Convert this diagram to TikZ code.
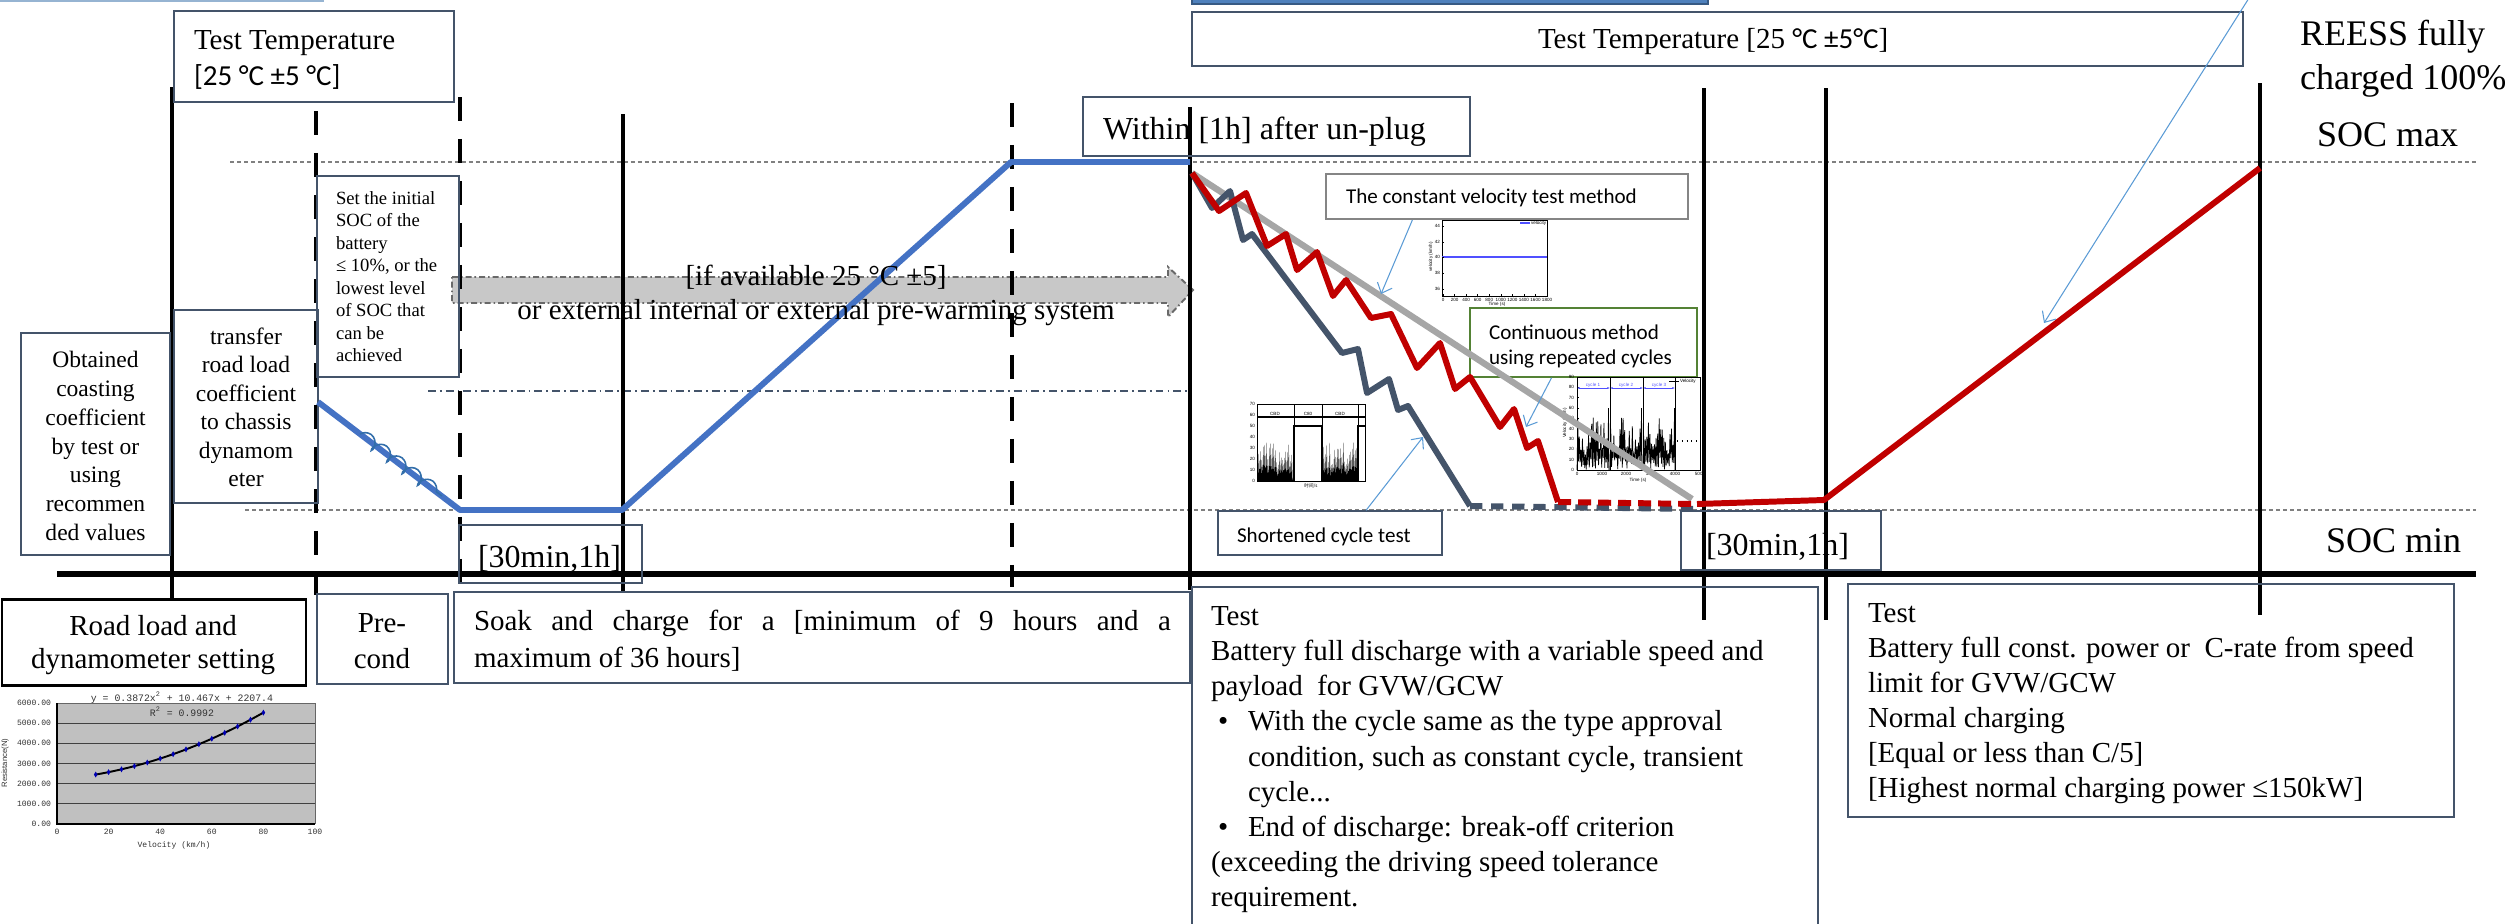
\documentclass[tikz,border=0pt]{standalone}
\usepackage{fontspec}
\setmainfont{Liberation Serif}
\newfontfamily\calf{Carlito}
\newfontfamily\monof{Liberation Mono}
\newfontfamily\sansf{Liberation Sans}
\newfontfamily\cjkf{Noto Sans CJK SC}
\usetikzlibrary{arrows.meta,decorations.pathmorphing,fit,calc}
\definecolor{slate}{RGB}{68,84,106}
\definecolor{socblue}{RGB}{68,114,196}
\definecolor{socred}{RGB}{192,0,0}
\definecolor{socgrey}{RGB}{166,166,166}
\definecolor{callblue}{RGB}{91,155,213}
\definecolor{boxgreen}{RGB}{84,130,53}
\definecolor{gridgrey}{RGB}{128,128,128}
\definecolor{arrowfill}{RGB}{200,200,200}
\definecolor{arrowedge}{RGB}{105,105,105}
\definecolor{chartgrey}{RGB}{192,192,192}
\definecolor{velblue}{RGB}{80,80,255}
\definecolor{topblue}{RGB}{79,129,189}
\definecolor{toplight}{RGB}{150,180,210}
\definecolor{coilblue}{RGB}{50,110,170}
\newcommand\fsMain{\fontsize{16.5}{19}\selectfont}
\newcommand\fsBig{\fontsize{18.2}{21}\selectfont}
\newcommand\fsHuge{\fontsize{20.5}{24}\selectfont}
\newcommand\fsObt{\fontsize{13.4}{16}\selectfont}
\newcommand\fsSet{\fontsize{10.6}{12.8}\selectfont}
\newcommand\fsCal{\fontsize{12}{14}\selectfont}
\tikzset{
  txt/.style={inner sep=0pt,outer sep=0pt},
  bx/.style={draw=slate,line width=0.85pt,inner sep=0pt},
  vsolid/.style={line width=2.8pt},
  vdashed/.style={line width=2.8pt,dash pattern=on 13.7pt off 10.2pt},
  socline/.style={draw=gridgrey,line width=0.8pt,dash pattern=on 2.3pt off 1.7pt},
  dashdotline/.style={draw=slate,line width=0.6pt,dash pattern=on 4.5pt off 2.3pt on 1pt off 2.3pt},
  curve/.style={line width=3.4pt,line join=round},
  callout/.style={draw=callblue,line width=0.6pt,-{Straight Barb[length=5pt,width=9pt]}},
  tk/.style={inner sep=0pt,outer sep=0pt,font={\sansf\fontsize{2.6}{3}\selectfont}},
  rk/.style={inner sep=0pt,outer sep=0pt,font={\monof\fontsize{4.6}{5.5}\selectfont},text=black!80},
}
\begin{document}
\begin{tikzpicture}[x=0.02cm,y=-0.02cm]
\useasboundingbox (0,0) rectangle (2514,923);

% top fragments
\draw[toplight,line width=1.5pt] (0,1) -- (324,1);
\fill[topblue] (1192,-6) rectangle (1708,4);
\draw[topblue!70!black,line width=0.6pt] (1192,-6) rectangle (1708,4);

% SOC reference lines
\draw[socline] (230,162) -- (2476,162);
\draw[socline] (245,510) -- (2476,510);
\draw[dashdotline] (428,391) -- (1190,391);

% pre-warming fat arrow
\draw[fill=arrowfill,draw=arrowedge,line width=1.1pt,dash pattern=on 3.4pt off 1.7pt on 0.9pt off 1.7pt]
  (452,277) -- (1168,277) -- (1168,267) -- (1193,290) -- (1168,317) -- (1168,303) -- (452,303) -- cycle;

% vertical time markers
\draw[vsolid] (172,87) -- (172,598);
\draw[vdashed] (316,111) -- (316,595);
\draw[vdashed] (460,97) -- (460,583);
\draw[vsolid] (623,114) -- (623,592);
\draw[vdashed] (1012,103) -- (1012,587);
\draw[vsolid] (1190,107) -- (1190,590);
\draw[vsolid] (1704,88) -- (1704,620);
\draw[vsolid] (1826,88) -- (1826,620);
\draw[vsolid] (2260,83) -- (2260,615);

% main axis
\draw[line width=3.4pt] (57,574) -- (2476,574);

% boxes
\node[bx,fit={(174,11) (454,102)}] (ttleft) {};
\node[bx,fit={(1192,12) (2243,66)}] (ttright) {};
\node[bx,fit={(21,333) (170,555)}] (obt) {};
\node[bx,fit={(174,310) (318,503)}] (trans) {};
\node[bx,fit={(317,176) (459,377)}] (setsoc) {};
\node[bx,fit={(1083,97) (1470,156)}] (within) {};
\node[bx,fit={(459,525) (642,583)}] (halfl) {};
\node[bx,fit={(1681,511) (1881,570)}] (halfr) {};
\node[draw=black,line width=1.7pt,inner sep=0pt,fit={(2,599) (306,685)}] (road) {};
\node[bx,fit={(317,594) (448,684)}] (precond) {};
\node[bx,fit={(454,592) (1190,683)}] (soak) {};
\node[bx,fit={(1192,587) (1818,940)}] (testmid) {};
\node[bx,fit={(1848,584) (2454,817)}] (testright) {};
\node[draw=socgrey!80!black,line width=1.1pt,inner sep=0pt,fit={(1326,174) (1688,219)}] (cvbox) {};
\node[draw=boxgreen,line width=0.9pt,inner sep=0pt,fit={(1470,308) (1697,377)}] (contbox) {};
\node[bx,fit={(1218,511) (1442,555)}] (shortbox) {};

% SOC curve (blue)
\draw[curve,socblue] (318,402) -- (460,510) -- (622,510) -- (1011,162) -- (1190,162);
\draw[coilblue,line width=0.9pt,decorate,decoration={coil,aspect=0.7,segment length=11pt,amplitude=3.6pt}] (360,434) -- (442,496);

% mini chart: cycle chart
\draw[line width=0.4pt] (1577,377) rectangle (1700,470);
\foreach \v in {0,10,...,90} {
  \node[tk,anchor=east] (cyl\v) at (1574,{470-1.033*\v}) {\v};
  \draw[line width=0.3pt] (1577,{470-1.033*\v}) -- (1579,{470-1.033*\v});
}
\foreach \v/\xx in {0/1577,1000/1602,2000/1626,3000/1651,4000/1675,5000/1700} {
  \node[tk,anchor=north] (cxl\v) at (\xx,472.5) {\v};
}
\node[tk,anchor=north] (cxt) at (1638,478) {Time (s)};
\node[tk,anchor=south,rotate=90] (cyt) at (1567,423) {Velocity (km/h)};
\pgfmathsetseed{42}
\foreach \s in {1577,1610,1643} {
  \draw[line width=0.4pt] (\s,470) \foreach \i in {1,...,40} { -- ({\s+\i*0.77},{470-1.033*ifthenelse(mod(\i,2)==0,12*rnd,14+38*rnd)}) } -- ({\s+31.5},{470-62}) -- ({\s+32},470);
}
\foreach \xx in {1610,1643,1675} { \draw[line width=0.5pt] (\xx,377) -- (\xx,470); }
\draw[velblue,line width=0.5pt,{Latex[length=1.5pt]}-{Latex[length=1.5pt]}] (1577,388) -- (1610,388);
\draw[velblue,line width=0.5pt,{Latex[length=1.5pt]}-{Latex[length=1.5pt]}] (1610,388) -- (1643,388);
\draw[velblue,line width=0.5pt,{Latex[length=1.5pt]}-{Latex[length=1.5pt]}] (1643,388) -- (1675,388);
\node[tk,text=velblue,anchor=south] (cc1) at (1593,387) {cycle 1};
\node[tk,text=velblue,anchor=south] (cc2) at (1626,387) {cycle 2};
\node[tk,text=velblue,anchor=south] (cc3) at (1659,387) {cycle 3};
\draw[line width=0.5pt] (1669,381) -- (1679,381);
\node[tk,anchor=west] (clg) at (1680,381) {Velocity};
\draw[line width=0.7pt,dotted] (1677,441) -- (1697,441);

% mini chart: constant velocity
\draw[line width=0.4pt] (1442,220) rectangle (1547,296);
\draw[velblue,line width=0.8pt] (1442,257) -- (1547,257);
\foreach \v/\yy in {44/226,42/242,40/257,38/273,36/289} {
  \node[tk,anchor=east] (vyl\v) at (1440,\yy) {\v};
  \draw[line width=0.3pt] (1442,\yy) -- (1444,\yy);
}
\foreach \v [count=\i from 0] in {0,200,400,600,800,1000,1200,1400,1600,1800} {
  \node[tk,anchor=north] (vxl\i) at ({1443+\i*11.56},298) {\v};
  \draw[line width=0.3pt] ({1443+\i*11.56},296) -- ({1443+\i*11.56},294);
}
\node[tk,anchor=north] (vxt) at (1497,302) {Time (s)};
\node[tk,anchor=south,rotate=90] (vyt) at (1433,257) {velocity (km/h)};
\draw[velblue,line width=0.8pt] (1520,223) -- (1530,223);
\node[tk,anchor=west] (vlg) at (1531,223) {velocity};

% mini chart: shortened cycle
\draw[line width=0.4pt] (1257,404) rectangle (1365,481);
\draw[line width=0.6pt] (1257,417) -- (1365,417);
\foreach \xx in {1294,1322,1358} { \draw[line width=0.4pt] (\xx,404) -- (\xx,426); }
\draw[line width=0.6pt] (1294,481) -- (1294,426) -- (1322,426) -- (1322,481);
\draw[line width=0.6pt] (1358,481) -- (1358,426) -- (1365,426);
\pgfmathsetseed{7}
\foreach \s in {1258,1323} {
  \fill (\s,481) \foreach \i in {1,...,46} { -- ({\s+\i*0.75},{481-ifthenelse(mod(\i,2)==0,6*rnd,16+24*rnd)}) } -- ({\s+35},481) -- cycle;
}
\node[tk,anchor=south] (sl1) at (1275,416) {CBD};
\node[tk,anchor=south] (sl2) at (1308,416) {C80};
\node[tk,anchor=south] (sl3) at (1340,416) {CBD};
\foreach \v [count=\i from 0] in {0,10,20,30,40,50,60,70} {
  \node[tk,anchor=east] (syl\v) at (1255,{481-\i*11}) {\v};
}
\node[inner sep=0pt,anchor=north,font={\cjkf\fontsize{2.6}{3}\selectfont}] (sxt) at (1311,483) {时间/s};

% discharge curves
\draw[curve,socgrey,line width=3.6pt] (1192,173) -- (1692,499);
\draw[curve,slate] (1192,173) -- (1212,208) -- (1230,191) -- (1243,240) -- (1252,234) -- (1342,353) -- (1358,349) -- (1367,393) -- (1389,379) -- (1398,410) -- (1408,406) -- (1470,506);
\draw[curve,slate,dash pattern=on 7pt off 5pt] (1470,506) -- (1698,509);
\draw[curve,socred] (1192,173) -- (1219,211) -- (1246,193) -- (1267,246) -- (1286,234) -- (1297,270) -- (1317,252) -- (1333,296) -- (1346,280) -- (1371,318) -- (1391,314) -- (1417,368) -- (1440,343) -- (1455,389) -- (1470,377) -- (1500,427) -- (1514,409) -- (1527,448) -- (1538,441) -- (1558,502);
\draw[curve,socred,dash pattern=on 7.4pt off 4pt] (1558,502) -- (1697,504);
\draw[curve,socred] (1697,504) -- (1824,500) -- (2260,168);

% callout arrows
\coordinate (cvtip) at (1381,294);
\coordinate (conttip) at (1526,427);
\coordinate (shorttip) at (1423,437);
\coordinate (reesstail) at (2249,-2);
\coordinate (reesstip) at (2044,323);
\draw[callout] ($(cvbox.south west)!0.24!(cvbox.south east)$) -- (cvtip);
\draw[callout] ($(contbox.south west)!0.36!(contbox.south east)$) -- (conttip);
\draw[callout] ($(shortbox.north west)!0.66!(shortbox.north east)$) -- (shorttip);
\draw[callout] (reesstail) -- (reesstip);

% regression chart
\fill[chartgrey] (57,703) rectangle (315,824);
\foreach \k in {1,...,5} { \draw[black!75,line width=0.6pt] (57,{824-20.17*\k}) -- (315,{824-20.17*\k}); }
\draw[black!60,line width=0.5pt] (57,703) -- (315,703) -- (315,824);
\draw[black,line width=0.6pt] (57,703) -- (57,824) -- (315,824);
\foreach \lab/\k in {0.00/0,1000.00/1,2000.00/2,3000.00/3,4000.00/4,5000.00/5,6000.00/6} {
  \node[rk,anchor=east] (ryl\k) at (51,{824-20.17*\k}) {\lab};
}
\foreach \v [count=\i from 0] in {0,20,40,60,80,100} {
  \node[rk,anchor=north] (rxl\i) at ({57+51.6*\i},829) {\v};
}
\node[rk,anchor=north] (rxt) at (174,842) {Velocity (km/h)};
\node[inner sep=0pt,anchor=south,rotate=90,font={\sansf\fontsize{4.4}{5}\selectfont},text=black!80] (ryt) at (9,763) {Resistance(N)};
\node[inner sep=0pt,anchor=base,font={\monof\fontsize{5.6}{6.5}\selectfont},text=black!80] (rtitle) at (182,701) {y = 0.3872x\textsuperscript{2} + 10.467x + 2207.4};
\node[inner sep=0pt,anchor=base,font={\monof\fontsize{5.6}{6.5}\selectfont},text=black!80] (rr2) at (182,716) {R\textsuperscript{2} = 0.9992};
\draw[line width=1.1pt] plot[domain=15:80,samples=30] ({57+2.58*\x},{824-0.020167*(0.3872*\x*\x+10.467*\x+2207.4)});
\foreach \v in {15,20,...,80} {
  \fill[blue!70!black] ({57+2.58*\v},{824-0.020167*(0.3872*\v*\v+10.467*\v+2207.4)}) +(0,-3) -- +(1.8,0) -- +(0,3) -- +(-1.8,0) -- cycle;
}

% ---------- texts ----------
\node[txt,anchor=base west,font=\fsMain] (tt1) at (194,49) {Test Temperature};
\node[txt,anchor=base west,font=\fsMain\calf] (tt2) at (194,85) {[25 °C ±5 °C]};
\node[txt,anchor=base west,font=\fsMain] (tt3) at (1538,48) {Test Temperature [25 {\calf °C ±5°C}]};

\node[txt,anchor=base,font=\fsObt] (ob1) at (95.5,367) {Obtained};
\node[txt,anchor=base,font=\fsObt] (ob2) at (95.5,396) {coasting};
\node[txt,anchor=base,font=\fsObt] (ob3) at (95.5,425) {coefficient};
\node[txt,anchor=base,font=\fsObt] (ob4) at (95.5,454) {by test or};
\node[txt,anchor=base,font=\fsObt] (ob5) at (95.5,482) {using};
\node[txt,anchor=base,font=\fsObt] (ob6) at (95.5,511) {recommen};
\node[txt,anchor=base,font=\fsObt] (ob7) at (95.5,540) {ded values};

\node[txt,anchor=base,font=\fsObt] (tr1) at (246,344) {transfer};
\node[txt,anchor=base,font=\fsObt] (tr2) at (246,372.5) {road load};
\node[txt,anchor=base,font=\fsObt] (tr3) at (246,401) {coefficient};
\node[txt,anchor=base,font=\fsObt] (tr4) at (246,429.5) {to chassis};
\node[txt,anchor=base,font=\fsObt] (tr5) at (246,458) {dynamom};
\node[txt,anchor=base,font=\fsObt] (tr6) at (246,486.5) {eter};

\node[txt,anchor=base west,font=\fsSet] (st1) at (336,204) {Set the initial};
\node[txt,anchor=base west,font=\fsSet] (st2) at (336,226.5) {SOC of the};
\node[txt,anchor=base west,font=\fsSet] (st3) at (336,249) {battery};
\node[txt,anchor=base west,font=\fsSet] (st4) at (336,271.5) {≤ 10\%, or the};
\node[txt,anchor=base west,font=\fsSet] (st5) at (336,294) {lowest level};
\node[txt,anchor=base west,font=\fsSet] (st6) at (336,316.5) {of SOC that};
\node[txt,anchor=base west,font=\fsSet] (st7) at (336,339) {can be};
\node[txt,anchor=base west,font=\fsSet] (st8) at (336,361.5) {achieved};

\node[txt,anchor=base,font=\fsMain] (pw1) at (816,285) {[if available 25 °C ±5]};
\node[txt,anchor=base,font=\fsMain] (pw2) at (816,319) {or external internal or external pre-warming system};

\node[txt,anchor=base west,font=\fsBig] (wi1) at (1103,139) {Within [1h] after un-plug};

\node[txt,anchor=base west,font=\fsHuge] (re1) at (2300,45) {REESS fully};
\node[txt,anchor=base west,font=\fsHuge] (re2) at (2300,89) {charged 100\%};
\node[txt,anchor=base west,font=\fsHuge] (smax) at (2317,146) {SOC max};
\node[txt,anchor=base west,font=\fsHuge] (smin) at (2326,552) {SOC min};

\node[txt,anchor=base west,font=\fsBig] (hl) at (478,567) {[30min,1h]};
\node[txt,anchor=base west,font=\fsBig] (hr) at (1706,555) {[30min,1h]};

\node[txt,anchor=base,font=\fsMain] (rd1) at (153,635) {Road load and};
\node[txt,anchor=base,font=\fsMain] (rd2) at (153,668) {dynamometer setting};
\node[txt,anchor=base,font=\fsMain] (pc1) at (382,632) {Pre-};
\node[txt,anchor=base,font=\fsMain] (pc2) at (382,668) {cond};
\node[txt,anchor=base west,font=\fsMain] (sk1) at (474,630) {\makebox[13.94cm][s]{Soak and charge for a [minimum of 9 hours and a}};
\node[txt,anchor=base west,font=\fsMain] (sk2) at (474,667) {maximum of 36 hours]};

\node[txt,anchor=base west,font=\fsMain] (tm1) at (1211,625) {Test};
\node[txt,anchor=base west,font=\fsMain] (tm2) at (1211,660) {Battery full discharge with a variable speed and};
\node[txt,anchor=base west,font=\fsMain] (tm3) at (1211,695.5) {payload\ \ for GVW/GCW};
\node[txt,anchor=base west,font=\fsMain] (tb1) at (1218,730.5) {•};
\node[txt,anchor=base west,font=\fsMain] (tm4) at (1248,730.5) {With the cycle same as the type approval};
\node[txt,anchor=base west,font=\fsMain] (tm5) at (1248,766) {condition, such as constant cycle, transient};
\node[txt,anchor=base west,font=\fsMain] (tm6) at (1248,801) {cycle...};
\node[txt,anchor=base west,font=\fsMain] (tb2) at (1218,836) {•};
\node[txt,anchor=base west,font=\fsMain] (tm7) at (1248,836) {End of discharge: break-off criterion};
\node[txt,anchor=base west,font=\fsMain] (tm8) at (1211,871) {(exceeding the driving speed tolerance};
\node[txt,anchor=base west,font=\fsMain] (tm9) at (1211,906.5) {requirement.};

\node[txt,anchor=base west,font=\fsMain] (tr01) at (1868,622) {Test};
\node[txt,anchor=base west,font=\fsMain] (tr02) at (1868,657) {Battery full const. power or\ \ C-rate from speed};
\node[txt,anchor=base west,font=\fsMain] (tr03) at (1868,692) {limit for GVW/GCW};
\node[txt,anchor=base west,font=\fsMain] (tr04) at (1868,727) {Normal charging};
\node[txt,anchor=base west,font=\fsMain] (tr05) at (1868,762) {[Equal or less than C/5]};
\node[txt,anchor=base west,font=\fsMain] (tr06) at (1868,797) {[Highest normal charging power ≤150kW]};

\node[txt,anchor=base west,font=\fsCal\calf] (cv1) at (1346,203) {The constant velocity test method};
\node[txt,anchor=base west,font=\fsCal\calf] (ct1) at (1489,339) {Continuous method};
\node[txt,anchor=base west,font=\fsCal\calf] (ct2) at (1489,364) {using repeated cycles};
\node[txt,anchor=base west,font=\fsCal\calf] (sh1) at (1237,542) {Shortened cycle test};
\end{tikzpicture}
\end{document}
